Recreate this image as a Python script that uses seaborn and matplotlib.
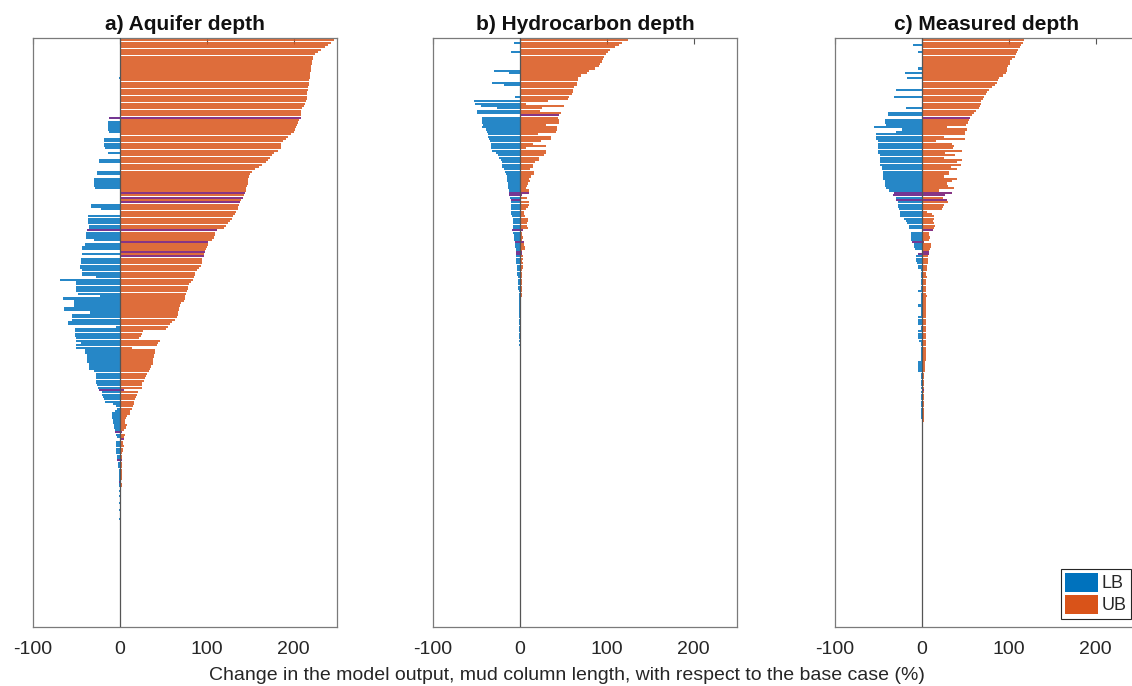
import pandas as pd
import matplotlib.pyplot as plt
import seaborn as sns
from matplotlib.patches import Patch

# number of parameter bars per panel (bars past the end of a list are zero)
N_BARS = 250

# a) Aquifer depth
ub_a = [246, 243, 240, 236, 232, 228, 225, 222, 222, 221,
        221, 220, 220, 220, 219, 219, 219, 218, 218, 218,
        217, 217, 216, 216, 215, 215, 214, 213, 212, 210,
        209, 209, 208, 208, 206, 205, 204, 203, 202, 200,
        197, 194, 191, 188, 186, 186, 185, 182, 178, 175,
        173, 170, 168, 164, 160, 156, 152, 150, 149, 148,
        148, 147, 146, 145, 145, 144, 143, 142, 140, 138,
        137, 136, 136, 134, 132, 130, 129, 127, 125, 122,
        120, 112, 110, 109, 108, 106, 102, 101, 100, 99,
        98, 97, 97, 95, 95, 94, 93, 91, 89, 87,
        86, 85, 84, 82, 80, 79, 78, 77, 76, 75,
        75, 74, 70, 69, 68, 68, 67, 67, 66, 63,
        60, 58, 55, 53, 27, 25, 24, 22, 46, 44,
        43, 14, 40, 40, 39, 39, 38, 38, 38, 36,
        35, 34, 31, 30, 29, 28, 26, 25, 25, 5,
        21, 20, 19, 17, 16, 16, 15, 14, 12, 12,
        8, 7, 6, 6, 8, 7, 5, 3, 6, 5,
        5, 4, 4, 5, 4, 4, 3, 3, 3, 2,
        3, 2.5, 2.5, 2.5, 2.2, 2.2, 2, 2, 1.5, 2,
        2, 1.8, 1.8, 1.7, 1.7, 1.6, 1.6, 1.6, 1.5, 1.5,
        1.5, 1.4, 1.4, 1.4, 1.3, 1.3, 1.3, 1.2, 1.2, 1.2,
        1.2, 1.1, 1.1, 1.1, 1.0, 1.0, 1.0]
lb_a = [0, 0, 0, 0, 0, 0, 0, 0, 0, 0,
        0, 0, 0, 0, 0, 0, -1, 0, 0, 0,
        0, 0, 0, 0, 0, 0, 0, 0, 0, 0,
        0, 0, 0, -12, 0, -14, -14, -14, -14, -13,
        0, 0, -18, -18, -18, -18, -17, 0, -14, 0,
        0, -24, -24, 0, 0, 0, -26, -26, 0, -30,
        -30, -30, -30, -29, 0, 0, 0, 0, 0, 0,
        -33, -33, -22, 0, 0, -37, -37, -37, -37, -36,
        -36, -38, -39, -39, -39, -30, 0, -40, -44, -44,
        0, -44, 0, -45, -45, -45, -46, -46, -44, -44,
        -44, -27, -69, -50, -50, -50, -50, -50, -48, -23,
        -66, -53, -53, -53, -64, -64, -34, -55, -55, -55,
        -60, -60, -5, -52, -52, -52, -52, -50, -50, -45,
        -50, -50, -40, -40, -38, -38, -38, -38, -36, -36,
        -36, -30, -27, -27, -27, -27, -27, -26, -25, -24,
        -21, -20, -19, -18, -17, -8, -5, -3, -6, -9,
        -9, -9, -8, -8, -7, -7, -6, -6, -4, -3,
        0, -5, -5, -5, -4, -4, -4, -3, -3, -3,
        -2, -2, -2, -1.5, -1.5, -1.2, -1.2, -1, -1, -1,
        -1, 0, -1, 0, -1, 0, 0, -0.8, 0, 0,
        -0.8, 0, 0, 0, -0.6, 0, 0, 0, 0, 0,
        0, 0, 0, 0, 0, 0, 0]
highlight_a = [33, 65, 67, 69, 81, 86, 90, 92, 149, 167, 170, 179, 188]

# b) Hydrocarbon depth
ub_b = [124, 118, 114, 110, 104, 102, 99, 97, 96, 94,
        92, 91, 86, 80, 77, 70, 67, 67, 66, 66,
        62, 61, 61, 60, 57, 55, 32, 7, 51, 26,
        23, 47, 45, 44, 45, 45, 30, 43, 43, 42,
        21, 36, 36, 24, 15, 30, 7, 30, 30, 28,
        22, 22, 18, 15, 15, 12, 16, 16, 13, 11,
        12, 9, 8, 7, 10, 11, 3, 8, 1, 10,
        10, 9, 7, 5, 5, 6, 9, 9, 8, 8,
        9, 4, 3, 3, 4, 3, 5, 5, 6, 6,
        3, 2, 4, 4, 2, 4, 4, 4, 3, 3,
        3, 3, 2.5, 2.5, 2.5, 2.5, 2.2, 2, 2, 2,
        1.8, 1.8, 1.7, 1.7, 1.6, 1.6, 1.5, 1.5, 1.5, 1.4,
        1.4, 1.4, 1.3, 1.3, 1.3, 1.2, 1.2, 1.2, 1.1, 1.1,
        1.1, 1.0, 1.0, 1.0, 0.9, 0.9, 0.8]
lb_b = [0, -7, 0, 0, 0, -10, 0, 0, 0, 0,
        0, 0, 0, -30, -12, 0, 0, 0, -32, -18,
        0, 0, 0, 0, -6, 0, -53, -52, -45, -26,
        -49, -49, 0, -44, -44, -44, -43, -44, -39, -38,
        -37, -37, -36, -34, -33, -33, -33, -32, -28, -25,
        -24, -22, -21, -21, -20, -18, -17, -16, -15, -15,
        -15, -14, -14, -14, -13, -12, -12, -11, -10, -10,
        -10, -10, -10, -10, -10, -9, -8, -8, -8, -8,
        -8, -9, -8, -7, -7, -7, -6, -6, -6, -5,
        -5, -5, -4, -4, -5, -4, -3, -3, -3, -3,
        -3, -2.5, -2.5, -2, -2, -2, -2, -1.5, -1.5, -1.5,
        -1.2, -1.2, -1, -1, -1, -1, -1, -1, -0.8, -0.8,
        -0.8, -0.8, -0.6, -0.6, -0.6, -0.5, -0.5, -0.5, -0.5, 0,
        -0.5, 0, 0, 0, 0, 0, 0]
highlight_b = [32, 65, 66, 68, 81, 86, 90, 91]

# c) Measured depth
ub_c = [118, 116, 114, 113, 111, 109, 108, 107, 104, 102,
        101, 99, 98, 98, 97, 93, 89, 88, 87, 84,
        81, 77, 75, 74, 72, 70, 68, 68, 67, 66,
        62, 60, 58, 56, 54, 53, 51, 29, 52, 50,
        50, 25, 50, 16, 35, 37, 36, 46, 27, 38,
        25, 46, 40, 45, 33, 41, 31, 31, 26, 41,
        35, 29, 30, 37, 20, 35, 27, 24, 29, 30,
        25, 24, 23, 6, 12, 14, 14, 13, 14, 15,
        14, 13, 8, 8, 9, 8, 2, 10, 10, 9,
        8, 8, 7, 7, 7, 7, 6, 6, 5.5, 5,
        5, 5.5, 5, 5, 5, 4.5, 5, 5, 5, 5.5,
        5, 5, 4.5, 5, 5, 5, 4.5, 5, 5, 5,
        5, 4.5, 5, 5, 4.5, 5, 5, 4.5, 5, 4.5,
        5, 4.5, 4.5, 5, 4.5, 4.5, 4.5, 4, 4, 4,
        4, 3.5, 2.5, 2.5, 2.3, 2.3, 2.3, 2.3, 2.3, 2,
        2.3, 2.3, 2.2, 2.2, 2.2, 2.2, 2.1, 2.1, 2, 2,
        2, 2, 1.9, 1.8, 1.8, 1.7, 1.7, 1.6, 1.6, 1.5,
        1.5, 1.5, 1.4, 1.4, 1.4, 1.3, 1.3, 1.2, 1.2, 1.2,
        1.1, 1.1, 1.0, 1.0, 1.0, 0.9, 0.9, 0.8]
lb_c = [0, 0, -10, 0, 0, -5, 0, 0, 0, 0,
        0, 0, -4, 0, -19, 0, -17, 0, 0, 0,
        0, -30, 0, 0, -32, 0, 0, 0, 0, -18,
        0, -39, -39, 0, -42, -42, -41, -55, -23, -30,
        -53, -53, -53, -50, -50, -50, -50, -50, -50, -48,
        -48, -48, -48, -48, -46, -46, -45, -45, -45, -45,
        -42, -42, -42, -41, -38, -32, -33, -30, -30, -28,
        -28, -27, -26, -25, -25, -25, -21, -18, -17, -15,
        -15, 0, -13, -13, -13, -12, -11, -9, -9, -8,
        0, -4, -7, -7, -7, -6, -5, -5, -1, -1,
        -1.5, -1, -1, -1.5, -1, -1, -1, -5, -1, -1.5,
        -1, -1, -1, -5, -1, -1, -1, -1, -5, -5,
        -5, -5, -1.5, -1, -5, -5, -5, -5, -3, -1,
        -1, -1.5, -1, -1, -1, -1, -1, -4, -4, -4,
        -4, -4, -1, -1, -0.8, -0.8, -0.8, -0.8, -0.8, 0,
        -0.8, -0.8, -0.6, -0.6, -0.6, -0.6, -0.5, -0.5, -0.5, -0.5,
        -0.5, -0.5, 0, 0, 0, 0, 0, 0, 0, 0,
        0, 0, 0, 0, 0, 0, 0, 0, 0, 0,
        0, 0, 0, 0, 0, 0, 0, 0]
highlight_c = [33, 65, 66, 68, 81, 86, 90, 91, 149]

titles = ["a) Aquifer depth", "b) Hydrocarbon depth", "c) Measured depth"]
x_ticks = [-100, 0, 100, 200]

BLUE = "#0072BD"
ORANGE = "#D95319"
PURPLE = "#7E2F8E"

sns.set_style("white")
plt.rcParams["font.family"] = ["Liberation Sans", "DejaVu Sans"]

fig = plt.figure(figsize=(11.32, 6.86), dpi=100)

# axes boxes in pixels: left, top, right, bottom
W, H = 1132, 686
lefts = [33, 433, 835]
top, bottom, width = 38, 627, 304


def pad(values):
    return list(values) + [0] * (N_BARS - len(values))


def draw_panel(ax, lb, ub, highlight, title):
    lb = pad(lb)
    ub = pad(ub)
    df = pd.DataFrame({
        "bar": list(range(N_BARS)) * 2,
        "change": lb + ub,
        "bound": ["LB"] * N_BARS + ["UB"] * N_BARS,
    })
    sns.barplot(
        data=df, x="change", y="bar", hue="bound", orient="h",
        order=list(range(N_BARS)), dodge=False, errorbar=None,
        palette={"LB": BLUE, "UB": ORANGE}, saturation=1,
        width=0.9, alpha=0.85, linewidth=0, legend=False, ax=ax,
    )
    # highlighted parameters
    ax.hlines(highlight, [lb[i] for i in highlight], [ub[i] for i in highlight],
              color=PURPLE, lw=1.3, zorder=3)
    ax.axvline(0, color="#555555", lw=0.9, zorder=4)

    ax.set_xlim(-100, 250)
    ax.set_ylim(N_BARS, -1)
    ax.set_xticks(x_ticks)
    ax.set_xticklabels([str(t) for t in x_ticks])
    ax.set_yticks([])
    ax.set_xlabel("")
    ax.set_ylabel("")
    ax.tick_params(axis="x", direction="in", length=4, top=True,
                   labelsize=14, pad=10, color="#555555", labelcolor="#262626")
    for s in ax.spines.values():
        s.set_visible(True)
        s.set_color("#7a7a7a")
        s.set_linewidth(0.9)
    ax.set_title(title, fontsize=15, fontweight="bold", pad=6, color="#111111")


lbs = [lb_a, lb_b, lb_c]
ubs = [ub_a, ub_b, ub_c]
highlights = [highlight_a, highlight_b, highlight_c]

axes = []
for k in range(3):
    ax = fig.add_axes([lefts[k] / W, (H - bottom) / H, width / W, (bottom - top) / H])
    draw_panel(ax, lbs[k], ubs[k], highlights[k], titles[k])
    axes.append(ax)

handles = [Patch(facecolor=BLUE, edgecolor="none", label="LB"),
           Patch(facecolor=ORANGE, edgecolor="none", label="UB")]
leg = axes[2].legend(
    handles=handles, loc="lower right",
    bbox_to_anchor=(1131 / W, (H - 619) / H), bbox_transform=fig.transFigure,
    fontsize=13, frameon=True, fancybox=False, framealpha=1,
    handlelength=1.8, handleheight=1.2, handletextpad=0.2,
    borderpad=0.25, labelspacing=0.15, borderaxespad=0,
)
leg.get_frame().set_edgecolor("#262626")
leg.get_frame().set_linewidth(0.8)

fig.text(0.501, 1 - 675 / H,
         "Change in the model output, mud column length, with respect to the base case (%)",
         ha="center", va="center", fontsize=14, color="#262626")

plt.savefig("out.png", dpi=100)
